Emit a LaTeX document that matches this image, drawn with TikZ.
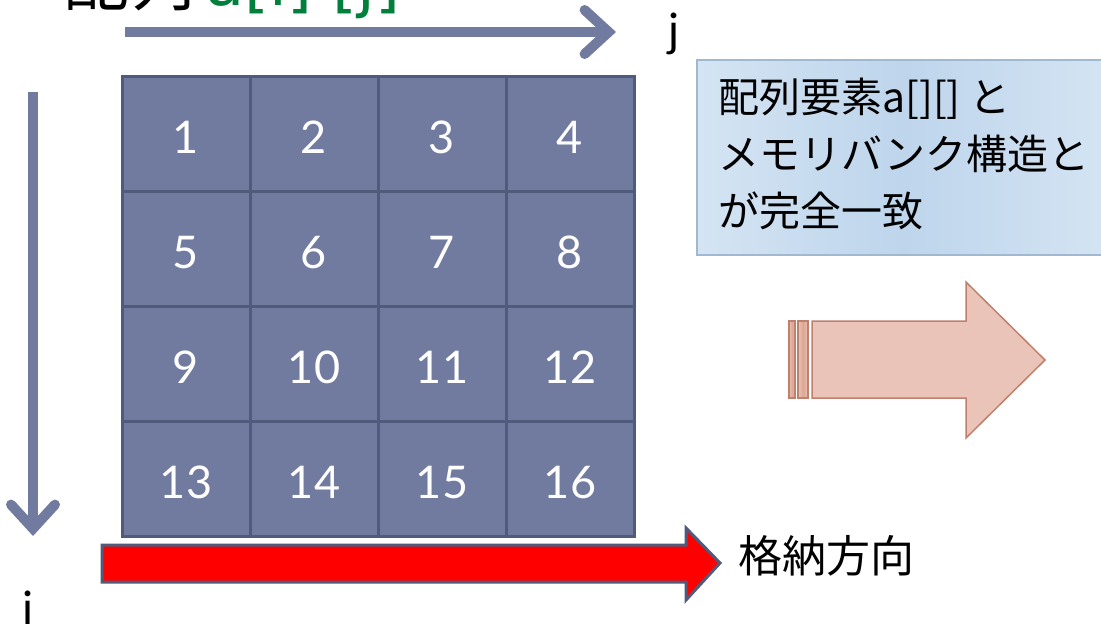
\documentclass[tikz,border=0pt]{standalone}
\usepackage{fontspec}
\setmainfont{Lato}
\newfontfamily\cjk{Noto Sans CJK JP}
\newfontfamily\dejavu{DejaVu Sans}
\usetikzlibrary{arrows.meta}
\definecolor{cellfill}{RGB}{113,123,160}
\definecolor{cellline}{RGB}{80,90,122}
\definecolor{axis}{RGB}{113,123,160}
\definecolor{arrgreen}{RGB}{0,128,58}
\definecolor{boxA}{RGB}{212,228,243}
\definecolor{boxB}{RGB}{190,213,236}
\definecolor{boxline}{RGB}{160,184,208}
\definecolor{pinkA}{RGB}{234,196,184}
\definecolor{pinkB}{RGB}{224,166,148}
\definecolor{pinkline}{RGB}{192,128,110}
\tikzset{
  cell/.style={draw=cellline, fill=cellfill, line width=3pt, minimum width=128pt, minimum height=115pt, inner sep=0pt},
  num/.style={inner sep=0pt, font=\fontsize{45}{48}\selectfont, text=white},
  axisarrow/.style={draw=axis, line width=10pt, -{Straight Barb[length=24pt, width=44pt, line cap=round]}},
  lbl/.style={inner sep=0pt, font=\fontsize{46}{50}\selectfont},
}
\begin{document}
\begin{tikzpicture}[x=1pt, y=-1pt]
\useasboundingbox (0,0) rectangle (1101,627);
\clip (0,0) rectangle (1101,627);
% title (cut off at top)
\node[anchor=base west, inner sep=0pt] (title) at (63,5) {{\cjk\fontsize{66}{70}\selectfont 配列}\hspace{10pt}{\dejavu\fontsize{64}{70}\selectfont\textcolor{arrgreen}{a[i] [j]}}};
% grid
\foreach \r in {0,...,3}{
  \foreach \c in {1,...,4}{
    \pgfmathtruncatemacro{\n}{\r*4+\c}
    \node[cell] (c\n) at ({122+64+128*(\c-1)}, {76+57.5+115*\r}) {};
    \node[num] (n\n) at ([yshift=-4pt]c\n.center) {\n};
  }
}
% axes
\coordinate (jstart) at (125,32);
\coordinate (jend) at (616,32);
\draw[axisarrow] (jstart) -- (jend);
\node[lbl, anchor=base] (jlbl) at (674,46) {j};
\coordinate (istart) at (33,92);
\coordinate (iend) at (33,536);
\draw[axisarrow] (istart) -- (iend);
\node[lbl, anchor=base] (ilbl) at (28,624) {i};
% red storage arrow
\draw[draw=cellline, line width=3pt, fill=red, line join=miter]
  (102,545) -- (686,545) -- (686,528) -- (720,563) -- (686,600) -- (686,582) -- (102,582) -- cycle;
\node[anchor=west, inner sep=0pt, font=\cjk\fontsize{44}{48}\selectfont] (store) at (738,556) {格納方向};
% blue box
\shade[left color=boxA, right color=boxA, middle color=boxB] (697,60) rectangle (1110,255);
\draw[boxline, line width=2pt] (1110,60) -- (697,60) -- (697,255) -- (1110,255);
\node[anchor=north west, align=left, inner sep=0pt, font=\cjk\fontsize{41}{57}\selectfont] (note) at (718,78)
  {配列要素a[][] と\\メモリバンク構造と\\が完全一致};
% pink arrow
\shade[left color=pinkA, middle color=pinkB, right color=pinkA, draw=pinkline, line width=1.5pt]
  (812,321) -- (966,321) -- (966,282) -- (1045,360) -- (966,438) -- (966,398) -- (812,398) -- cycle;
\shade[left color=pinkA, right color=pinkA, middle color=pinkB, draw=pinkline, line width=1.5pt] (789,321) rectangle (795,398);
\shade[left color=pinkA, right color=pinkA, middle color=pinkB, draw=pinkline, line width=1.5pt] (798,321) rectangle (808,398);
\end{tikzpicture}
\end{document}
